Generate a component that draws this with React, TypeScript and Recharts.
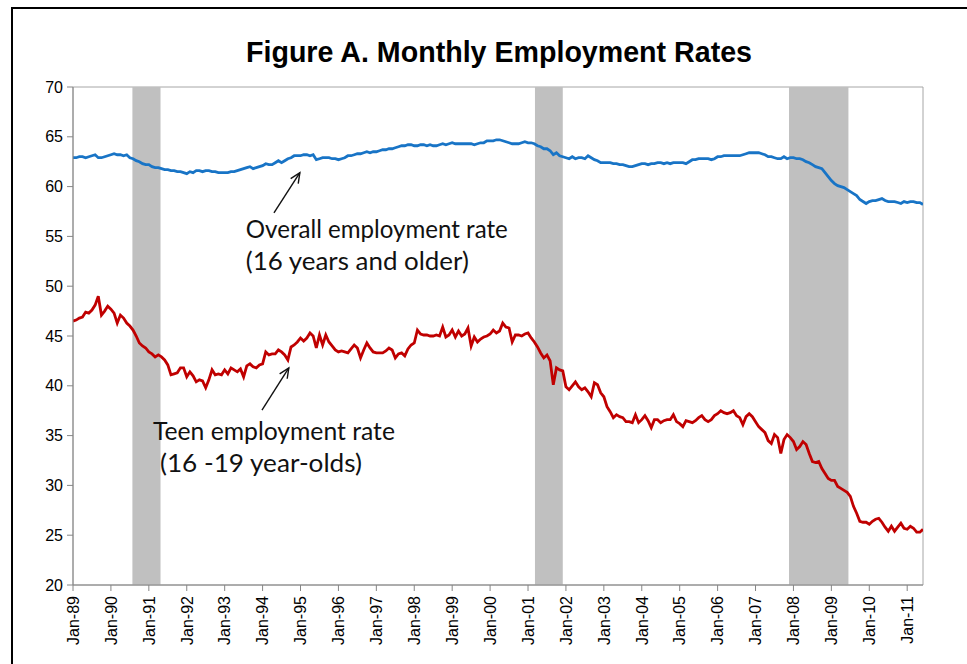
import React from "react";
import {
  LineChart,
  Line,
  XAxis,
  YAxis,
  ReferenceArea,
  ReferenceLine,
  ReferenceDot,
} from "recharts";

// Monthly values, Jan-1989 .. Jun-2011 (270 months)
const overallRate: number[] = [
  // 1989
  62.9, 62.9, 63.0, 63.0, 62.9, 63.0, 63.1, 63.2, 62.9, 62.9, 63.0, 63.1,
  // 1990
  63.2, 63.3, 63.2, 63.2, 63.1, 63.2, 62.9, 62.8, 62.6, 62.5, 62.3, 62.2,
  // 1991
  62.2, 62.0, 61.9, 61.9, 61.8, 61.7, 61.7, 61.6, 61.6, 61.5, 61.5, 61.4,
  // 1992
  61.3, 61.5, 61.4, 61.6, 61.6, 61.5, 61.6, 61.6, 61.5, 61.5, 61.4, 61.4,
  // 1993
  61.4, 61.4, 61.5, 61.5, 61.6, 61.7, 61.8, 61.9, 62.0, 61.8, 61.9, 62.0,
  // 1994
  62.1, 62.3, 62.2, 62.2, 62.4, 62.6, 62.4, 62.6, 62.8, 62.9, 63.1, 63.1,
  // 1995
  63.1, 63.2, 63.2, 63.1, 63.2, 62.7, 62.8, 62.9, 62.9, 62.9, 62.8, 62.8,
  // 1996
  62.7, 62.8, 62.9, 63.1, 63.1, 63.2, 63.3, 63.3, 63.4, 63.5, 63.4, 63.5,
  // 1997
  63.5, 63.6, 63.7, 63.7, 63.8, 63.8, 63.9, 64.0, 64.1, 64.1, 64.2, 64.2,
  // 1998
  64.1, 64.1, 64.2, 64.2, 64.1, 64.2, 64.1, 64.1, 64.2, 64.3, 64.2, 64.3,
  // 1999
  64.4, 64.3, 64.3, 64.3, 64.3, 64.3, 64.3, 64.2, 64.3, 64.4, 64.4, 64.6,
  // 2000
  64.6, 64.6, 64.7, 64.7, 64.6, 64.5, 64.4, 64.3, 64.3, 64.3, 64.4, 64.5,
  // 2001
  64.4, 64.4, 64.3, 64.1, 64.0, 63.8, 63.8, 63.6, 63.2, 63.4, 63.1, 63.0,
  // 2002
  62.9, 62.8, 63.0, 62.8, 62.9, 62.9, 62.8, 63.1, 62.9, 62.7, 62.6, 62.4,
  // 2003
  62.4, 62.4, 62.4, 62.3, 62.3, 62.2, 62.2, 62.1, 62.0, 62.0, 62.1, 62.2,
  // 2004
  62.3, 62.3, 62.2, 62.3, 62.3, 62.4, 62.4, 62.3, 62.4, 62.3, 62.4, 62.4,
  // 2005
  62.4, 62.4, 62.3, 62.5, 62.7, 62.7, 62.8, 62.8, 62.8, 62.8, 62.7, 62.8,
  // 2006
  63.0, 63.0, 63.1, 63.1, 63.1, 63.1, 63.1, 63.1, 63.2, 63.3, 63.4, 63.4,
  // 2007
  63.4, 63.4, 63.3, 63.2, 63.0, 63.0, 62.9, 62.8, 62.8, 63.0, 62.8, 62.9,
  // 2008
  62.9, 62.8, 62.8, 62.7, 62.5, 62.4, 62.2, 62.0, 61.9, 61.8, 61.4, 61.0,
  // 2009
  60.6, 60.3, 60.1, 60.0, 59.9, 59.7, 59.5, 59.3, 59.1, 58.7, 58.5, 58.3,
  // 2010
  58.5, 58.6, 58.6, 58.7, 58.8, 58.6, 58.5, 58.5, 58.5, 58.4, 58.3, 58.5,
  // 2011
  58.4, 58.5, 58.5, 58.4, 58.4, 58.2,
];

const teenRate: number[] = [
  // 1989
  46.5, 46.6, 46.8, 46.9, 47.4, 47.3, 47.6, 48.1, 49.0, 47.1, 47.5, 48.0,
  // 1990
  47.7, 47.3, 46.3, 47.1, 46.8, 46.3, 46.0, 45.6, 45.0, 44.3, 44.0, 43.8,
  // 1991
  43.4, 43.2, 42.9, 43.1, 42.9, 42.6, 42.1, 41.1, 41.2, 41.3, 41.8, 41.8,
  // 1992
  40.9, 41.4, 41.0, 40.4, 40.6, 40.5, 39.8, 40.6, 41.6, 41.1, 41.2, 41.1,
  // 1993
  41.6, 41.2, 41.8, 41.6, 41.4, 41.7, 40.9, 42.0, 42.2, 41.9, 41.8, 42.1,
  // 1994
  42.2, 43.4, 43.1, 43.2, 43.2, 43.6, 43.4, 43.1, 42.6, 43.9, 44.1, 44.4,
  // 1995
  44.8, 44.5, 44.8, 45.3, 45.0, 43.8, 45.1, 44.1, 45.1, 44.4, 44.0, 43.6,
  // 1996
  43.4, 43.5, 43.4, 43.3, 43.7, 44.1, 43.8, 42.8, 43.6, 44.3, 43.8, 43.4,
  // 1997
  43.3, 43.3, 43.3, 43.5, 43.8, 43.6, 42.8, 43.2, 43.3, 43.0, 43.7, 44.1,
  // 1998
  44.3, 45.6, 45.2, 45.1, 45.1, 45.0, 45.0, 45.1, 45.0, 45.9, 44.9, 45.1,
  // 1999
  45.6, 44.9, 45.5, 45.0, 45.2, 45.8, 44.0, 44.9, 44.4, 44.7, 44.9, 45.0,
  // 2000
  45.2, 45.6, 45.3, 45.5, 46.3, 45.9, 45.8, 44.4, 45.1, 45.1, 45.0, 45.2,
  // 2001
  45.3, 44.8, 44.4, 43.9, 43.3, 42.8, 43.1, 42.5, 40.1, 41.8, 41.6, 41.5,
  // 2002
  39.9, 39.6, 40.0, 40.4, 39.9, 39.6, 39.8, 39.4, 38.9, 40.3, 40.1, 39.3,
  // 2003
  38.9, 37.9, 37.4, 36.8, 37.1, 36.9, 36.8, 36.4, 36.4, 36.3, 37.1, 36.3,
  // 2004
  36.6, 37.0, 36.5, 35.8, 36.6, 36.6, 36.3, 36.5, 36.6, 36.6, 37.1, 36.4,
  // 2005
  36.2, 35.9, 36.5, 36.4, 36.3, 36.5, 36.8, 37.0, 36.6, 36.4, 36.6, 37.0,
  // 2006
  37.2, 37.5, 37.3, 37.2, 37.3, 37.5, 37.0, 36.8, 36.1, 36.9, 37.2, 36.9,
  // 2007
  36.4, 35.9, 35.6, 35.3, 34.5, 34.2, 35.1, 34.8, 33.2, 34.6, 35.1, 34.8,
  // 2008
  34.4, 33.6, 33.9, 34.4, 34.1, 33.2, 32.4, 32.3, 32.4, 31.7, 31.2, 30.7,
  // 2009
  30.5, 30.5, 29.9, 29.7, 29.5, 29.3, 28.9, 27.9, 27.2, 26.4, 26.3, 26.3,
  // 2010
  26.1, 26.4, 26.6, 26.7, 26.3, 25.8, 25.4, 25.9, 25.4, 25.8, 26.2, 25.7,
  // 2011
  25.6, 25.9, 25.7, 25.3, 25.3, 25.6,
];

// x-axis tick labels (one per January)
const tickLabels: string[] = [
  "Jan-89", "Jan-90", "Jan-91", "Jan-92", "Jan-93", "Jan-94", "Jan-95", "Jan-96",
  "Jan-97", "Jan-98", "Jan-99", "Jan-00", "Jan-01", "Jan-02", "Jan-03", "Jan-04",
  "Jan-05", "Jan-06", "Jan-07", "Jan-08", "Jan-09", "Jan-10", "Jan-11",
];
const yTicks: number[] = [20, 25, 30, 35, 40, 45, 50, 55, 60, 65, 70];

// recession shading (month index from Jan-89)
const recessionStart: number[] = [18.8, 146.2, 226.6];
const recessionEnd: number[] = [27.7, 155.0, 245.4];

const xTicks = tickLabels.map((_, i) => i * 12);
const lastMonth = overallRate.length - 1;

const data = overallRate.map((v, i) => ({ m: i, overall: v, teen: teenRate[i] }));

const ANNOT_FONT = "Lato, 'Noto Sans', sans-serif";

const Arrow = (props: any) => {
  const { x1, y1, x2, y2 } = props;
  const ang = Math.atan2(y2 - y1, x2 - x1);
  const len = 11;
  const spread = 0.42;
  const ax = x2 - len * Math.cos(ang - spread);
  const ay = y2 - len * Math.sin(ang - spread);
  const bx = x2 - len * Math.cos(ang + spread);
  const by = y2 - len * Math.sin(ang + spread);
  return (
    <g>
      <line x1={x1} y1={y1} x2={x2} y2={y2} stroke="#111" strokeWidth={1.4} />
      <polyline
        points={`${ax},${ay} ${x2},${y2} ${bx},${by}`}
        fill="none"
        stroke="#111"
        strokeWidth={1.4}
      />
    </g>
  );
};

const makeLabel =
  (line1: string, w1: number, line2: string, w2: number, indent2: number) =>
  (props: any) => {
    const { cx, cy } = props;
    return (
      <g>
        <text
          x={cx}
          y={cy}
          fontFamily={ANNOT_FONT}
          fontSize={25}
          fill="#111"
          textLength={w1}
          lengthAdjust="spacingAndGlyphs"
        >
          {line1}
        </text>
        <text
          x={cx + indent2}
          y={cy + 32}
          fontFamily={ANNOT_FONT}
          fontSize={25}
          fill="#111"
          textLength={w2}
          lengthAdjust="spacingAndGlyphs"
        >
          {line2}
        </text>
      </g>
    );
  };

const overallLabel = makeLabel("Overall employment rate", 262, "(16 years and older)", 223, 0);
const teenLabel = makeLabel("Teen employment rate", 242, "(16 -19 year-olds)", 202, 7);

const XTick = (props: any) => {
  const { x, y, payload } = props;
  const idx = Math.round(payload.value / 12);
  return (
    <g transform={`translate(${x},${y})`}>
      <text
        transform="rotate(-90)"
        x={0}
        y={0}
        dy="0.36em"
        textAnchor="end"
        fontFamily="'Liberation Sans', Arial, sans-serif"
        fontSize={16}
        fill="#000"
      >
        {tickLabels[idx]}
      </text>
    </g>
  );
};

export default function App() {
  return (
    <div
      style={{
        position: "fixed",
        left: 0,
        top: 0,
        width: 967,
        height: 664,
        overflow: "hidden",
        background: "#fff",
      }}
    >
      <div
        style={{
          position: "absolute",
          left: 11,
          top: 7,
          width: 1000,
          height: 720,
          border: "2px solid #000",
        }}
      />
      <svg
        width={967}
        height={80}
        style={{ position: "absolute", left: 0, top: 0 }}
      >
        <text
          x={499}
          y={62}
          textAnchor="middle"
          fontFamily="'Liberation Sans', Arial, sans-serif"
          fontWeight="bold"
          fontSize={29}
          fill="#000"
          textLength={506}
          lengthAdjust="spacingAndGlyphs"
        >
          Figure A.  Monthly Employment Rates
        </text>
      </svg>
      <div style={{ position: "absolute", left: 0, top: 0 }}>
        <LineChart
          width={967}
          height={664}
          data={data}
          margin={{ top: 87, right: 44, bottom: 0, left: 0 }}
        >
          <XAxis
            dataKey="m"
            type="number"
            domain={[0, lastMonth]}
            ticks={xTicks}
            interval={0}
            height={79}
            tick={<XTick />}
            tickSize={6}
            tickMargin={5}
            stroke="#868686"
            axisLine={{ stroke: "#868686" }}
            tickLine={{ stroke: "#868686" }}
            allowDataOverflow
          />
          <YAxis
            type="number"
            domain={[20, 70]}
            ticks={yTicks}
            interval={0}
            width={73}
            tickSize={6}
            tickMargin={4}
            axisLine={{ stroke: "#868686" }}
            tickLine={{ stroke: "#868686" }}
            tick={{
              fill: "#000",
              fontSize: 16,
              fontFamily: "'Liberation Sans', Arial, sans-serif",
            }}
            allowDataOverflow
          />
          <ReferenceArea
            x1={0}
            x2={lastMonth}
            y1={20}
            y2={70}
            fill="none"
            stroke="#a6a6a6"
            strokeWidth={1}
          />
          {recessionStart.map((s, i) => (
            <ReferenceArea
              key={`rec-${i}`}
              x1={s}
              x2={recessionEnd[i]}
              y1={20}
              y2={70}
              fill="#C0C0C0"
              fillOpacity={1}
              stroke="none"
            />
          ))}
          <Line
            type="linear"
            dataKey="overall"
            stroke="#1874C6"
            strokeWidth={2.8}
            dot={false}
            isAnimationActive={false}
          />
          <Line
            type="linear"
            dataKey="teen"
            stroke="#C00000"
            strokeWidth={2.8}
            dot={false}
            isAnimationActive={false}
          />
          <ReferenceLine
            segment={[
              { x: 63.6, y: 57.35 },
              { x: 71.8, y: 61.4 },
            ]}
            shape={Arrow}
          />
          <ReferenceLine
            segment={[
              { x: 59.8, y: 37.57 },
              { x: 68.3, y: 41.8 },
            ]}
            shape={Arrow}
          />
          <ReferenceDot x={54.7} y={54.84} r={0} shape={overallLabel} />
          <ReferenceDot x={25.3} y={34.56} r={0} shape={teenLabel} />
        </LineChart>
      </div>
    </div>
  );
}
